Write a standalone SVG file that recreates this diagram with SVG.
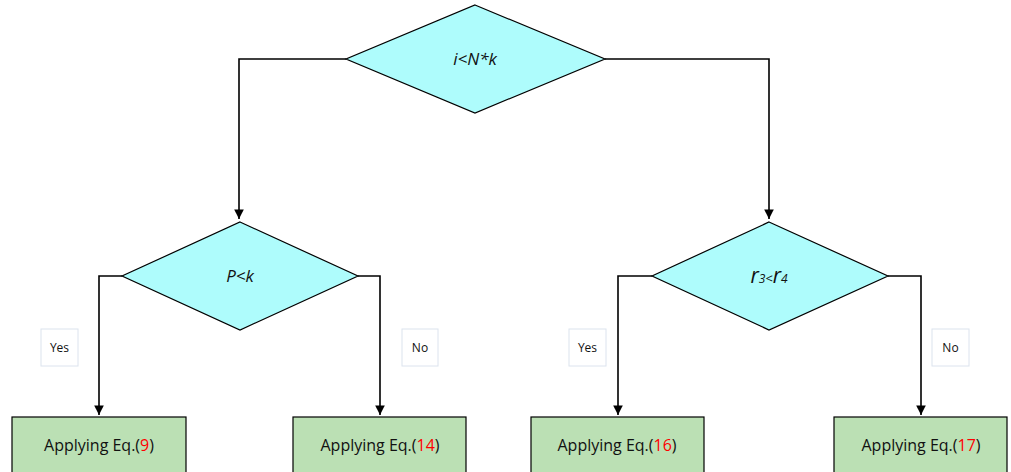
<svg xmlns="http://www.w3.org/2000/svg" width="1011" height="472" viewBox="0 0 1011 472">
<style>
.dia{fill:#aefcfc;stroke:#000;stroke-width:1.2}
.box{fill:#bbe0b4;stroke:#000;stroke-width:1.2}
.lbl{fill:#fff;stroke:#dce3ee;stroke-width:1}
.conn{fill:none;stroke:#000;stroke-width:1.6}
.t{font-family:"Open Sans","Liberation Sans",sans-serif;fill:#111}
.it{font-style:italic}
.red{fill:#ff0000}
</style>
<defs>
<marker id="arr" viewBox="0 0 10 10" refX="10" refY="5" markerWidth="6" markerHeight="6" orient="auto" markerUnits="strokeWidth">
<path d="M0,0 L10,5 L0,10 z" fill="#000"/>
</marker>
</defs>
<rect width="1011" height="472" fill="#fff"/>
<g id="connectors">
<path class="conn" d="M346,59 H239 V219" marker-end="url(#arr)"/>
<path class="conn" d="M605,59 H769 V219" marker-end="url(#arr)"/>
<path class="conn" d="M122,276 H99 V415" marker-end="url(#arr)"/>
<path class="conn" d="M358,276 H380 V415" marker-end="url(#arr)"/>
<path class="conn" d="M652,276 H618 V415" marker-end="url(#arr)"/>
<path class="conn" d="M888,276 H921 V415" marker-end="url(#arr)"/>
</g>
<g id="n-top">
<polygon class="dia" points="475,5 605,59 475,113 346,59"/>
<text class="t it" x="475" y="65" font-size="17" text-anchor="middle">i&lt;N*k</text>
</g>
<g id="n-pk">
<polygon class="dia" points="240,222 358,276 240,330 122,276"/>
<text class="t it" x="240" y="282" font-size="17" text-anchor="middle">P&lt;k</text>
</g>
<g id="n-r">
<polygon class="dia" points="769,222 888,276 769,330 652,276"/>
<text class="t it" x="769" y="283" font-size="21" text-anchor="middle">r<tspan font-size="12">3</tspan><tspan font-size="13">&lt;</tspan>r<tspan font-size="12">4</tspan></text>
</g>
<g id="lbl-yes1">
<rect class="lbl" x="41" y="329" width="37" height="37"/>
<text class="t" x="59.5" y="352" font-size="12" text-anchor="middle">Yes</text>
</g>
<g id="lbl-no1">
<rect class="lbl" x="402" y="329" width="36" height="37"/>
<text class="t" x="420" y="352" font-size="12" text-anchor="middle">No</text>
</g>
<g id="lbl-yes2">
<rect class="lbl" x="569" y="329" width="37" height="37"/>
<text class="t" x="587.5" y="352" font-size="12" text-anchor="middle">Yes</text>
</g>
<g id="lbl-no2">
<rect class="lbl" x="932" y="329" width="37" height="37"/>
<text class="t" x="950.5" y="352" font-size="12" text-anchor="middle">No</text>
</g>
<g id="box9">
<rect class="box" x="12" y="417" width="174" height="60"/>
<text class="t" x="99" y="451" font-size="16" text-anchor="middle">Applying Eq.(<tspan class="red">9</tspan>)</text>
</g>
<g id="box14">
<rect class="box" x="293" y="417" width="173" height="60"/>
<text class="t" x="380" y="451" font-size="16" text-anchor="middle">Applying Eq.(<tspan class="red">14</tspan>)</text>
</g>
<g id="box16">
<rect class="box" x="531" y="417" width="173" height="60"/>
<text class="t" x="617" y="451" font-size="16" text-anchor="middle">Applying Eq.(<tspan class="red">16</tspan>)</text>
</g>
<g id="box17">
<rect class="box" x="834" y="417" width="173" height="60"/>
<text class="t" x="921" y="451" font-size="16" text-anchor="middle">Applying Eq.(<tspan class="red">17</tspan>)</text>
</g>
</svg>
